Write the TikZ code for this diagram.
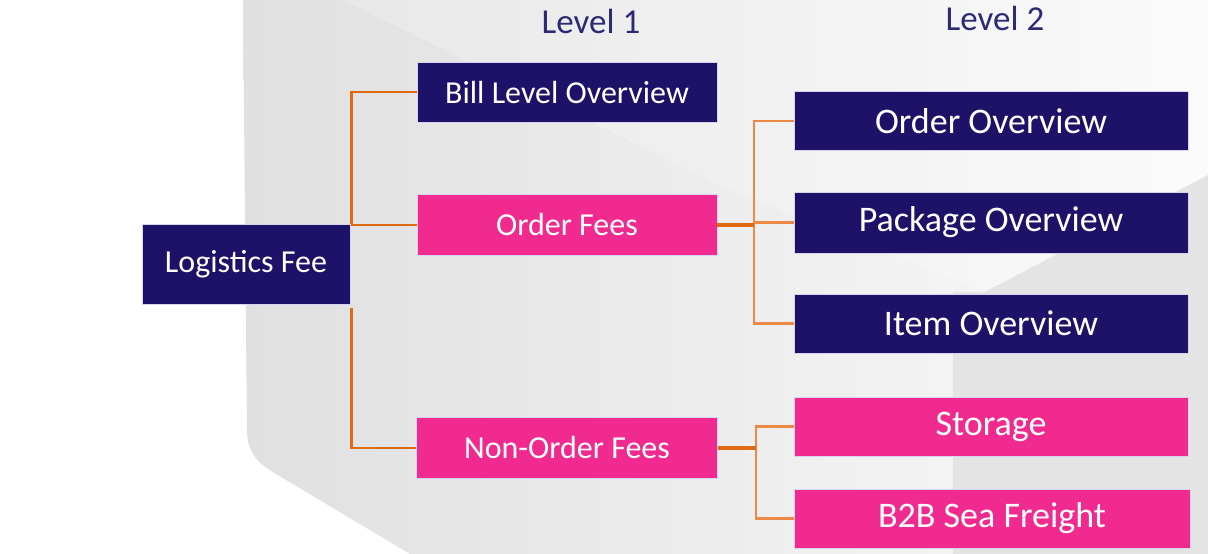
\documentclass[tikz,border=0pt]{standalone}
\usepackage{fontspec}
\setmainfont{Carlito}
\definecolor{navy}{HTML}{1D1268}
\definecolor{pinkbox}{HTML}{F02A8F}
\definecolor{titlecol}{HTML}{2C2A74}
\definecolor{conn}{HTML}{E06A12}
\definecolor{connlight}{HTML}{EC8A45}
\definecolor{boxedge}{HTML}{D8D4F0}
\definecolor{bgdark}{HTML}{E0E0E0}
\definecolor{bglight}{HTML}{FAFAFA}
\definecolor{bgright}{HTML}{E4E4E4}
\begin{document}
\begin{tikzpicture}[x=1pt,y=-1pt,
  box/.style={draw=boxedge,line width=0.8pt,inner sep=0pt,text=white,align=center},
  navybox/.style={box,fill=navy},
  pinkbox/.style={box,fill=pinkbox},
  lvone/.style={font=\fontsize{32}{36}\selectfont},
  lvtwo/.style={font=\fontsize{36}{40}\selectfont},
  title/.style={text=titlecol,font=\fontsize{35}{40}\selectfont,anchor=base,inner sep=0pt},
  link/.style={draw=conn,line width=2.4pt},
  stub/.style={draw=conn,line width=4pt},
  sublink/.style={draw=connlight,line width=2.4pt}]
\useasboundingbox (0,0) rectangle (1208,554);
\fill[white] (0,0) rectangle (1208,554);
% background panel
\shade[left color=bgdark,right color=bglight]
  (243,0) -- (1208,0) -- (1208,554) -- (410,554) -- (276,474)
  .. controls (256,462) and (248,452) .. (247,432) -- cycle;
\fill[white,opacity=0.2] (343,0) -- (1208,0) -- (1208,175) -- (985,292) -- (730,190) -- cycle;
\fill[bgright] (953,554) -- (953,292) -- (985,292) -- (1208,175) -- (1208,554) -- cycle;

% titles
\node[title] (t1) at (591,33) {Level 1};
\node[title] (t2) at (995,30) {Level 2};

% boxes
\node[navybox,lvone,minimum width=208pt,minimum height=80pt] (lf) at (246,264.5) {Logistics Fee};
\node[navybox,lvone,minimum width=300pt,minimum height=60pt] (bill) at (567,92) {Bill Level Overview};
\node[pinkbox,lvone,minimum width=300pt,minimum height=61pt] (of) at (567,225) {Order Fees};
\node[pinkbox,lvone,minimum width=301pt,minimum height=61pt] (nof) at (567,448) {Non-Order Fees};
\node[navybox,lvtwo,minimum width=394pt,minimum height=59pt] (oo) at (991,121) {Order Overview};
\node[navybox,lvtwo,minimum width=394pt,minimum height=61pt] (po) at (991,222.5) {Package Overview};
\node[navybox,lvtwo,minimum width=394pt,minimum height=59pt] (io) at (991,323.5) {Item Overview};
\node[pinkbox,lvtwo,minimum width=394pt,minimum height=59pt] (st) at (991,426.5) {Storage};
\node[pinkbox,lvtwo,minimum width=396pt,minimum height=59pt] (b2b) at (992,518.5) {B2B Sea Freight};

% junctions
\coordinate (j2) at (754,225);
\coordinate (j3) at (756,448);

% connectors
\draw[link] (bill.west) -| ([xshift=1pt]lf.north east);
\draw[link] (of.west) -- ([xshift=1pt]lf.east |- of.west);
\draw[link] (nof.west) -| ([xshift=1pt,yshift=-3pt]lf.south east);
\draw[sublink] (oo.west) -| (j2) |- (io.west);
\draw[sublink] (po.west) -- (po.west -| j2);
\draw[stub] (of.east) -- (j2);
\draw[sublink] (st.west) -| (j3) |- (b2b.west);
\draw[stub] (nof.east) -- (j3);
\end{tikzpicture}
\end{document}
